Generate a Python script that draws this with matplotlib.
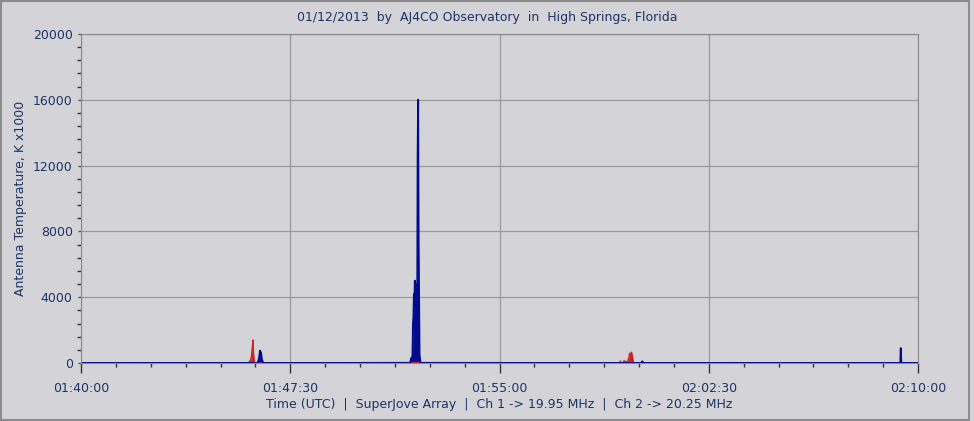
import matplotlib
matplotlib.use('Agg')
from matplotlib import pyplot as plt
from matplotlib.ticker import MultipleLocator, FuncFormatter
from matplotlib.patches import Rectangle

# seconds after 01:40:00 and antenna temperature (K x1000)
ch1_t = [0, 120, 240, 360, 364, 366, 368, 370, 371, 372, 374, 700, 900,
         1158, 1160, 1162, 1166, 1168, 1170, 1172, 1174, 1178, 1180, 1182,
         1184, 1186, 1188, 1400, 1800]
ch1_v = [0, 20, 10, 0, 150, 300, 800, 1400, 600, 200, 0, 30, 20,
         0, 120, 0, 0, 150, 0, 100, 0, 300, 600, 500,
         650, 400, 0, 20, 0]

ch2_t = [0, 380, 383, 385, 386, 387, 389, 392, 708, 710, 712, 713, 714,
         715, 716, 717, 718, 719, 720, 721, 722, 723, 724, 725, 726, 727,
         728, 730, 1205, 1207, 1210, 1762, 1763, 1764, 1800]
ch2_v = [0, 0, 300, 750, 400, 650, 200, 0, 0, 300, 150, 600, 2400,
         2800, 4200, 3500, 5000, 3800, 4800, 1500, 1000, 2000, 12400, 16000, 7200, 4000,
         500, 0, 0, 100, 0, 0, 900, 0, 0]

BG = '#d4d3d8'
TXT = '#1c3466'
RED = '#cc2222'
BLUE = '#000c8c'


def fmt_time(x, pos):
    s = int(round(x)) + 100 * 60
    return '{:02d}:{:02d}:{:02d}'.format(s // 3600, (s // 60) % 60, s % 60)


fig = plt.figure(figsize=(9.74, 4.21), dpi=100, facecolor=BG)
ax = fig.add_axes([81 / 974, 1 - 363 / 421, 837 / 974, 329 / 421], facecolor=BG)

ax.fill_between(ch1_t, 0, ch1_v, color=RED, lw=0)
ax.plot(ch1_t, ch1_v, color=RED, lw=1)
ax.fill_between(ch2_t, 0, ch2_v, color=BLUE, lw=0)
ax.plot(ch2_t, ch2_v, color=BLUE, lw=1.4)

ax.set_xlim(0, 1800)
ax.set_ylim(0, 20000)
ax.xaxis.set_major_locator(MultipleLocator(450))
ax.xaxis.set_minor_locator(MultipleLocator(75))
ax.yaxis.set_major_locator(MultipleLocator(4000))
ax.yaxis.set_minor_locator(MultipleLocator(800))
ax.xaxis.set_major_formatter(FuncFormatter(fmt_time))

ax.grid(True, which='major', color='#9a9a9a', lw=0.9)
ax.set_axisbelow(True)
for sp in ax.spines.values():
    sp.set_color('#8a8a8a')

ax.tick_params(axis='x', which='major', length=7, width=1, color='#333333',
               labelsize=9, labelcolor=TXT, pad=7, direction='out')
ax.tick_params(axis='x', which='minor', length=3, width=1, color='#333333')
ax.tick_params(axis='y', which='major', length=2, width=1, color='#555555',
               labelsize=9, labelcolor=TXT, pad=4)
ax.tick_params(axis='y', which='minor', length=3, width=1, color='#333333')

ax.set_xlabel('Time (UTC)  |  SuperJove Array  |  Ch 1 -> 19.95 MHz  |  Ch 2 -> 20.25 MHz',
              fontsize=9, color=TXT, labelpad=2)
ax.set_ylabel('Antenna Temperature, K x1000', fontsize=9, color=TXT, labelpad=4)
fig.text(0.5, 1 - 18 / 421, '01/12/2013  by  AJ4CO Observatory  in  High Springs, Florida',
         ha='center', va='center', fontsize=9, color=TXT)

# window border
fig.patches.append(Rectangle((0.001, 0.002), 0.994, 0.996, transform=fig.transFigure,
                             fill=False, edgecolor='#8c8c8c', lw=1.5))

plt.savefig('out.png', dpi=100, facecolor=BG)
